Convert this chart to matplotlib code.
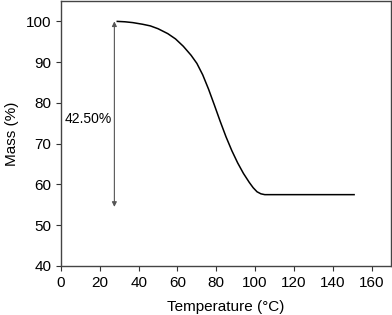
import matplotlib
matplotlib.use("Agg")
import matplotlib.pyplot as plt

plt.rcParams['font.family'] = ['Liberation Sans', 'DejaVu Sans']

# TGA curve
temperature = [29, 33, 37, 42, 46, 50, 55, 59, 63, 67, 70, 73, 76, 79, 82, 85,
               88, 91, 94, 97, 99, 101, 103, 105, 110, 120, 130, 140, 151]
mass = [100.0, 99.9, 99.7, 99.3, 98.9, 98.2, 97.0, 95.7, 93.9, 91.7, 89.7, 86.9,
        83.4, 79.5, 75.5, 71.7, 68.3, 65.3, 62.7, 60.5, 59.2, 58.2, 57.7, 57.5,
        57.5, 57.5, 57.5, 57.5, 57.5]

arrow_x = 27.5
arrow_top, arrow_bottom = 100, 54.5
loss_label = "42.50%"

fig = plt.figure(figsize=(3.92, 3.15), dpi=100)
ax = fig.add_axes([0.1556, 0.1556, 0.8418, 0.8412])

ax.plot(temperature, mass, color="black", linewidth=1.1)

ax.annotate("", xy=(arrow_x, arrow_top), xytext=(arrow_x, arrow_bottom),
            arrowprops=dict(arrowstyle="<|-|>", color="#555555", lw=0.8,
                            mutation_scale=7, shrinkA=0, shrinkB=0))
ax.text(14, 76, loss_label, ha="center", va="center", fontsize=10)

ax.set_xlim(0, 170)
ax.set_ylim(40, 105)
ax.set_xticks(range(0, 161, 20))
ax.set_yticks(range(40, 101, 10))
ax.tick_params(direction="out", length=3.6, width=0.8, labelsize=11,
               top=False, right=False, colors="#333333", labelcolor="black")
for s in ax.spines.values():
    s.set_color("#444444")
    s.set_linewidth(1.0)

ax.set_xlabel("Temperature (°C)", fontsize=11, labelpad=7)
ax.set_ylabel("Mass (%)", fontsize=11, labelpad=5)

fig.savefig("out.png", dpi=100)
